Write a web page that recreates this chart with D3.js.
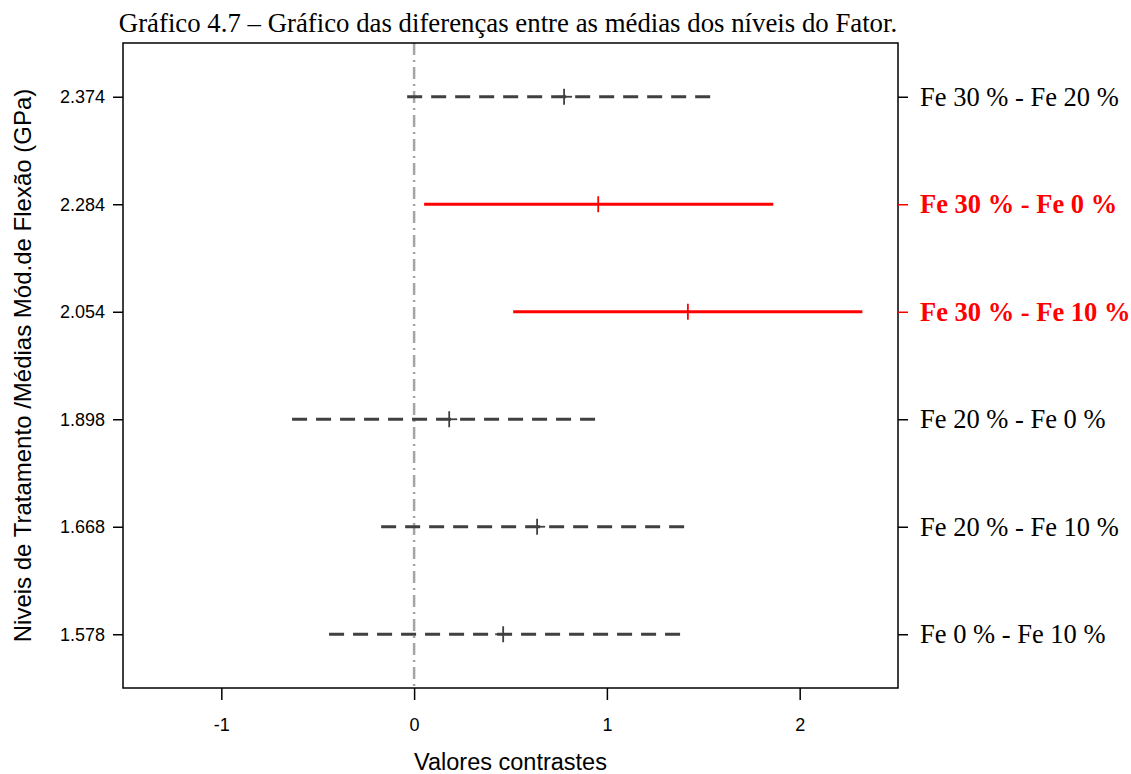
<!DOCTYPE html>
<html><head><meta charset="utf-8">
<script src="https://cdn.jsdelivr.net/npm/d3@7"></script>
<style>body{margin:0;background:#fff}</style>
</head><body>
<svg id="c" width="1131" height="774"></svg>
<script>
// Data (bottom to top)
const contrasts = ["Fe 0 % - Fe 10 %","Fe 20 % - Fe 10 %","Fe 20 % - Fe 0 %","Fe 30 % - Fe 10 %","Fe 30 % - Fe 0 %","Fe 30 % - Fe 20 %"];
const levelLabels = ["1.578","1.668","1.898","2.054","2.284","2.374"];
const estimates = [0.462, 0.638, 0.182, 1.420, 0.955, 0.778];
const lowerCI   = [-0.441, -0.171, -0.633, 0.514, 0.052, -0.036];
const upperCI   = [1.380, 1.411, 0.950, 2.325, 1.863, 1.540];
const significant = [false,false,false,true,true,false];
const xTicks = [-1,0,1,2];

const svg = d3.select("#c");
const L=123, R=898, T=43, B=688;
const x = d3.scaleLinear().domain([-1.51,2.51]).range([L,R]);
const y = d3.scaleLinear().domain([0.5,6.5]).range([B,T]);
const idx = d3.range(contrasts.length);

// title
svg.append("text").attr("x",508).attr("y",32).attr("text-anchor","middle")
  .attr("font-family","Liberation Serif").attr("font-size",26.8)
  .text("Gráfico 4.7 – Gráfico das diferenças entre as médias dos níveis do Fator.");

// zero reference line
svg.append("line").attr("x1",x(0)).attr("x2",x(0)).attr("y1",T).attr("y2",B)
  .attr("stroke","#a6a6a6").attr("stroke-width",2.5).attr("stroke-dasharray","12,5,2,5");

// intervals
const g = svg.append("g");
g.selectAll("line.ci").data(idx).join("line").attr("class","ci")
  .attr("x1",i=>x(lowerCI[i])).attr("x2",i=>x(upperCI[i]))
  .attr("y1",i=>y(i+1)).attr("y2",i=>y(i+1))
  .attr("stroke",i=>significant[i]?"#ff0000":"#404040")
  .attr("stroke-width",3)
  .attr("stroke-dasharray",i=>significant[i]?null:"15,9");
// center marks
g.selectAll("line.cv").data(idx).join("line").attr("class","cv")
  .attr("x1",i=>x(estimates[i])).attr("x2",i=>x(estimates[i]))
  .attr("y1",i=>y(i+1)-8).attr("y2",i=>y(i+1)+8)
  .attr("stroke",i=>significant[i]?"#ff0000":"#404040").attr("stroke-width",1.8);
g.selectAll("line.ch").data(idx.filter(i=>!significant[i])).join("line").attr("class","ch")
  .attr("x1",i=>x(estimates[i])-8).attr("x2",i=>x(estimates[i])+8)
  .attr("y1",i=>y(i+1)).attr("y2",i=>y(i+1))
  .attr("stroke","#404040").attr("stroke-width",1.8);

// box
svg.append("rect").attr("x",L).attr("y",T).attr("width",R-L).attr("height",B-T)
  .attr("fill","none").attr("stroke","#000").attr("stroke-width",1.5);

// bottom axis
const xa = svg.append("g").attr("transform",`translate(0,${B})`)
  .call(d3.axisBottom(x).tickValues(xTicks).tickSize(12).tickPadding(18).tickFormat(d=>String(d)));
xa.select(".domain").remove();
xa.selectAll("line").attr("stroke-width",1.5);
xa.selectAll("text").attr("font-family","Liberation Sans").attr("font-size",18);

// left axis
const ya = svg.append("g").attr("transform",`translate(${L},0)`)
  .call(d3.axisLeft(y).tickValues(idx.map(i=>i+1)).tickSize(10).tickPadding(8).tickFormat(d=>levelLabels[d-1]));
ya.select(".domain").remove();
ya.selectAll("line").attr("stroke-width",1.5);
ya.selectAll("text").attr("font-family","Liberation Sans").attr("font-size",18);

// right axis
const ra = svg.append("g").attr("transform",`translate(${R},0)`)
  .call(d3.axisRight(y).tickValues(idx.map(i=>i+1)).tickSize(10).tickPadding(12).tickFormat(d=>contrasts[d-1]));
ra.select(".domain").remove();
ra.selectAll(".tick").each(function(d){
  const s = significant[d-1];
  d3.select(this).select("line").attr("stroke",s?"#ff0000":"#000").attr("stroke-width",1.5);
  d3.select(this).select("text").attr("fill",s?"#ff0000":"#000")
    .attr("font-weight",s?"bold":"normal")
    .attr("font-family","Liberation Serif").attr("font-size",26.5);
});

// axis titles
svg.append("text").attr("x",x(0.5)).attr("y",770).attr("text-anchor","middle")
  .attr("font-family","Liberation Sans").attr("font-size",23.5).text("Valores contrastes");
svg.append("text").attr("transform",`translate(31,${(T+B)/2}) rotate(-90)`).attr("text-anchor","middle")
  .attr("font-family","Liberation Sans").attr("font-size",24)
  .text("Niveis de Tratamento /Médias Mód.de Flexão (GPa)");
</script>
</body></html>
